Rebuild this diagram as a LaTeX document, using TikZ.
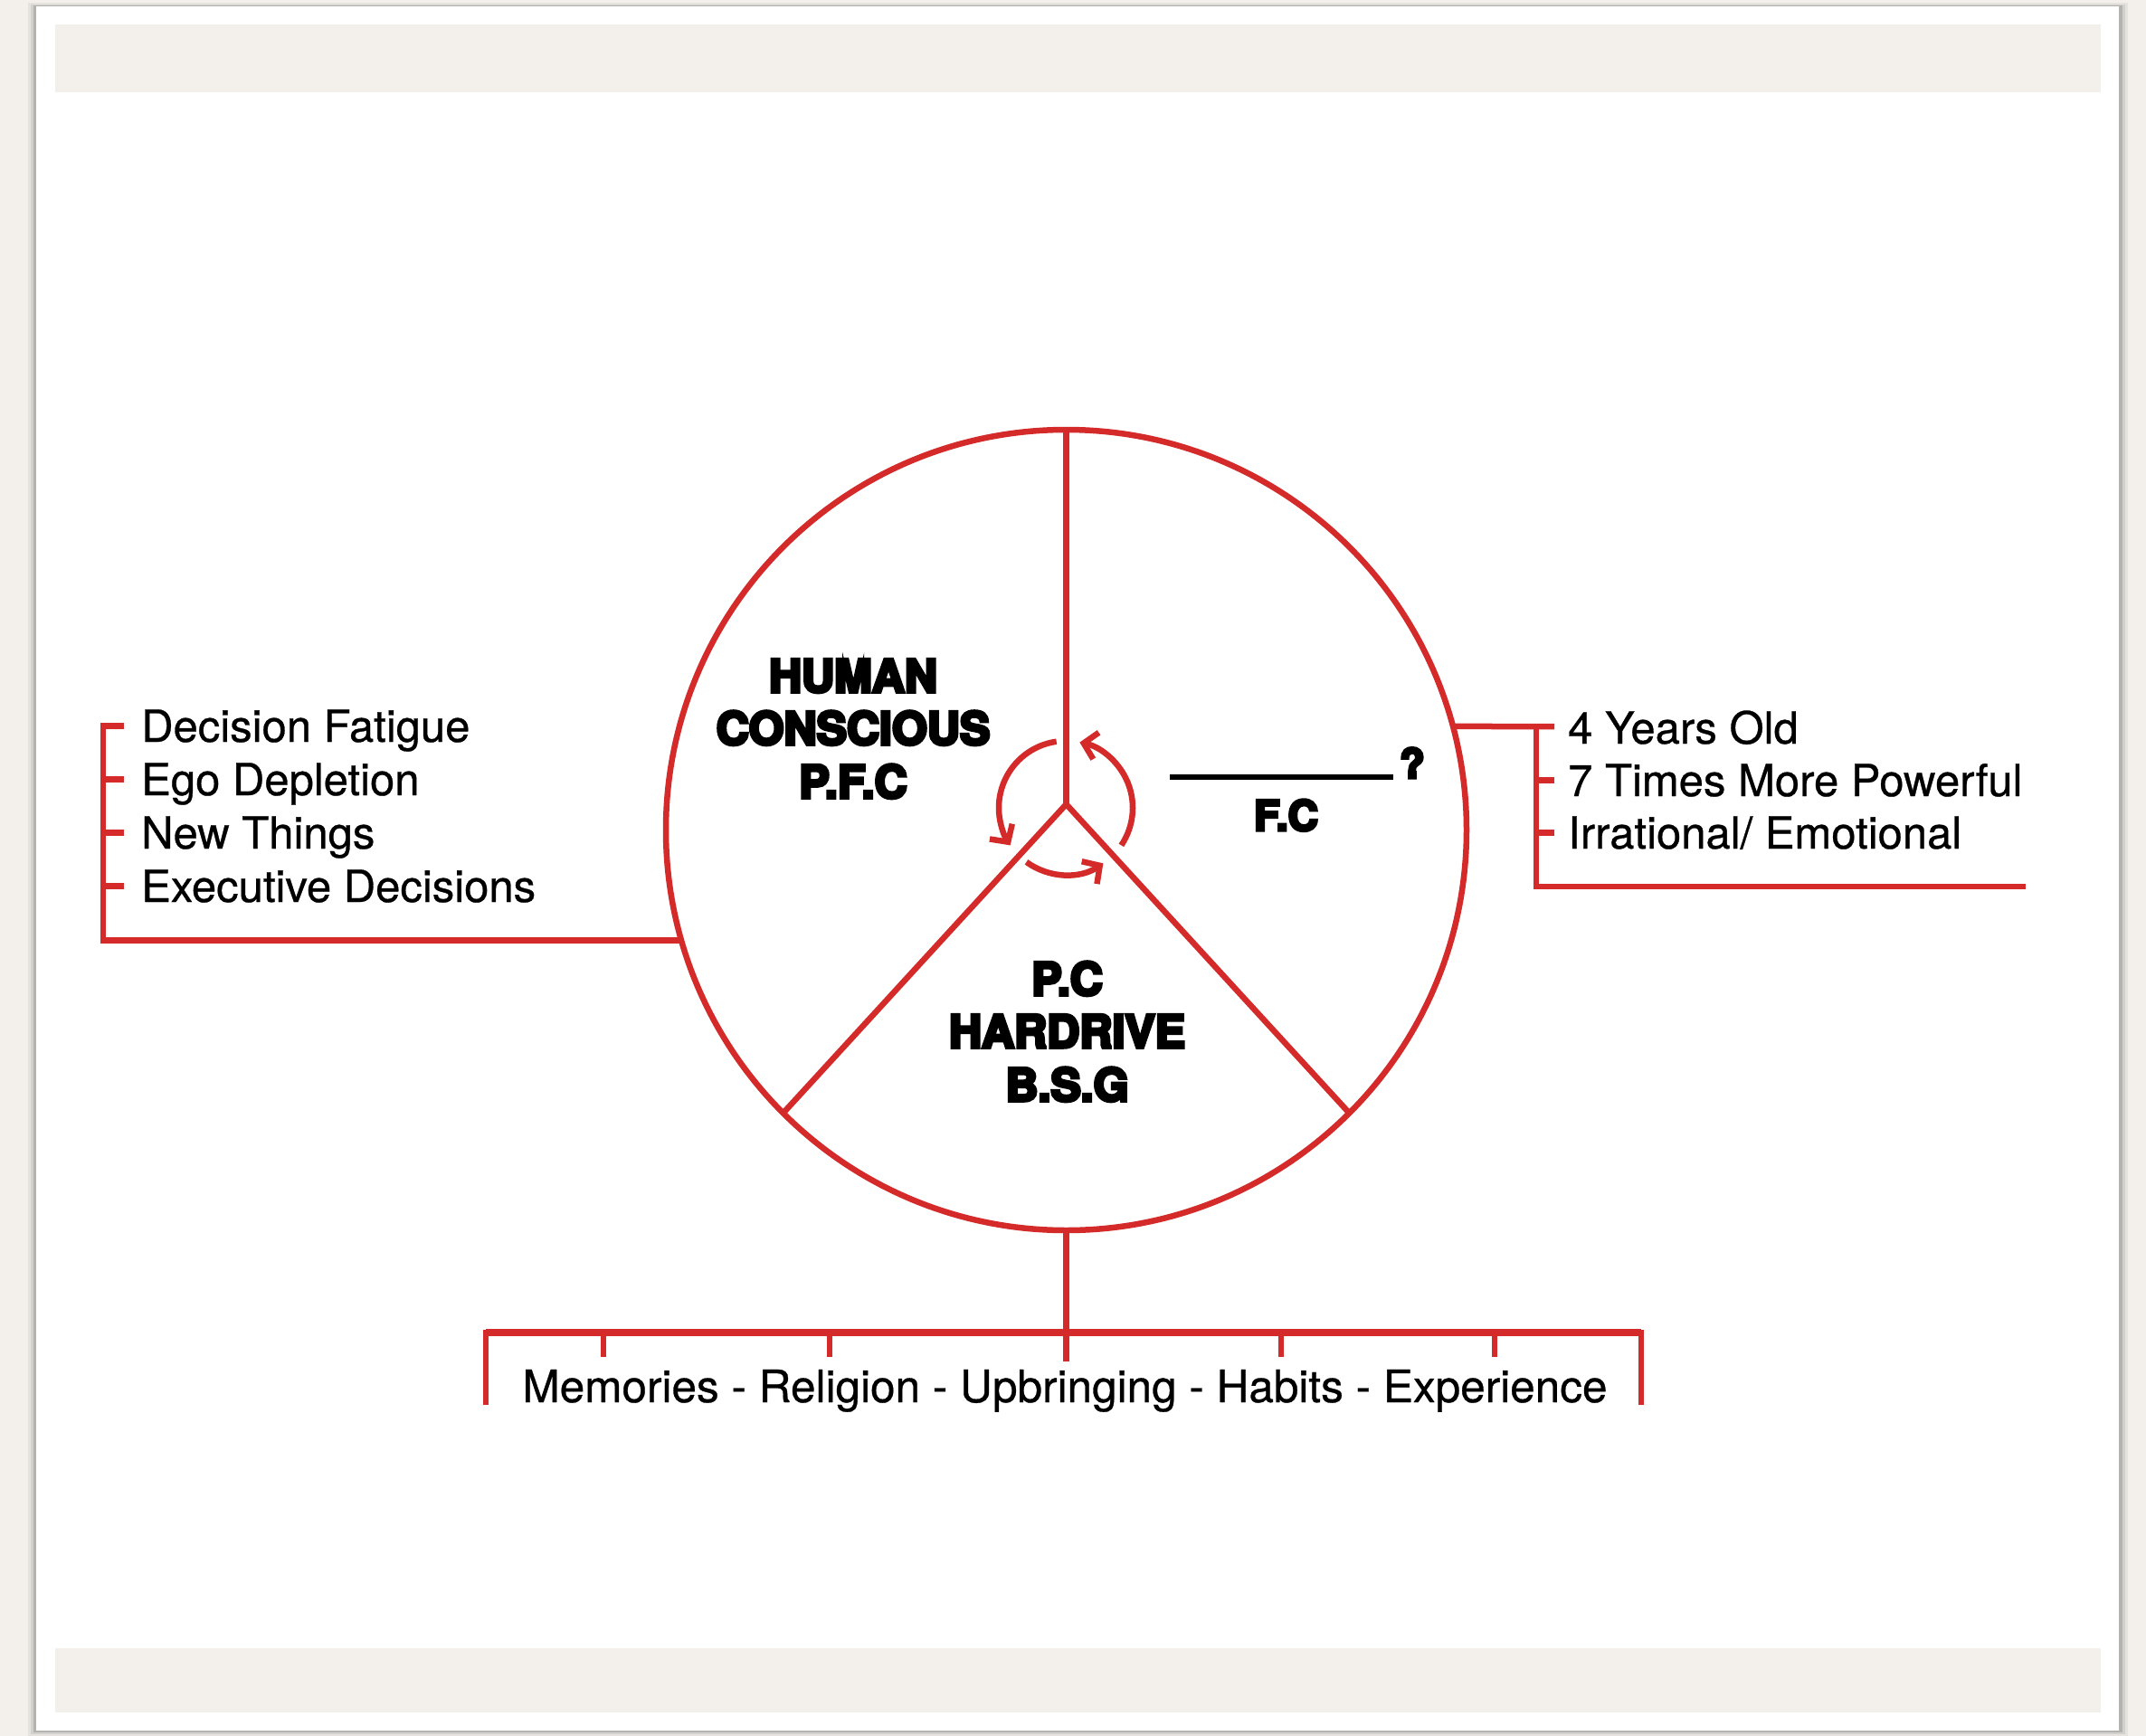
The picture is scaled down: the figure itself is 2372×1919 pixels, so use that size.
\documentclass[tikz,border=0pt]{standalone}
\usepackage{fontspec}
\setmainfont[FakeBold=0.6]{TeX Gyre Heros}
\newfontfamily\heavyfont[FakeBold=7]{TeX Gyre Heros Bold}
\usetikzlibrary{arrows.meta}
\definecolor{linered}{RGB}{212,42,42}
\definecolor{paper}{RGB}{243,240,235}
\begin{document}
\begin{tikzpicture}[x=1pt,y=-1pt,
  redline/.style={draw=linered, line width=6.5pt, line join=miter},
  listtext/.style={anchor=base west, inner sep=0pt, text height=35pt, text depth=0pt,
    font=\fontsize{49}{59}\selectfont},
  heavylabel/.style={anchor=base, inner sep=0pt, font=\heavyfont\fontsize{50}{58}\selectfont},
  turn/.style={redline, -{Straight Barb[length=14pt,width=30pt,line width=6.5pt]}}
]
\useasboundingbox (0,0) rectangle (2372,1919);

% sheet of paper with its soft shadow and the two tinted bands
\fill[paper] (0,0) rectangle (2372,1919);
\fill[black, opacity=0.05] (31,3) rectangle (2352,1919);
\fill[black, opacity=0.08] (34,5) rectangle (2349,1917);
\fill[black, opacity=0.14] (37,6) rectangle (2346,1915);
\fill[white] (40,7) rectangle (2342,1913);
\fill[paper] (61,27) rectangle (2322,102);
\fill[paper] (61,1822) rectangle (2322,1893);

% the divided circle
\node[circle, draw=linered, line width=6.5pt, minimum size=885pt, inner sep=0pt, outer sep=0pt]
  (ring) at (1178.5,917.5) {};
\coordinate (hub) at (1178.5,889);
\draw[redline] (ring.north) -- (hub);
\draw[redline] (ring.225) -- (hub) -- (ring.315);

% turning arrows round the hub
\coordinate (spin) at (1178,893);
\draw[turn] (spin) ++(-98:74) arc[start angle=-98, end angle=-214, radius=74];
\draw[turn] (spin) ++(34:74) arc[start angle=34, end angle=-78, radius=74];
\draw[turn] (spin) ++(-234:74) arc[start angle=-234, end angle=-304, radius=74];

% labels inside the sectors
\node[heavylabel] (pfc1) at (943,765) {HUMAN};
\node[heavylabel] (pfc2) at (943,823) {CONSCIOUS};
\node[heavylabel] (pfc3) at (943,882) {P.F.C};

\node[heavylabel] (pc1) at (1179.5,1100) {P.C};
\node[heavylabel] (pc2) at (1179.5,1158) {HARDRIVE};
\node[heavylabel] (pc3) at (1179.5,1217) {B.S.G};

\coordinate (blankL) at (1293,859);
\coordinate (blankR) at (1540,859);
\draw[line width=5.5pt] (blankL) -- (blankR);
\node[anchor=base west, inner sep=0pt, font=\heavyfont\fontsize{45}{50}\selectfont]
  (qmark) at (1547,860) {?};
\node[anchor=base, inner sep=0pt, font=\heavyfont\fontsize{46}{50}\selectfont]
  (fc) at (1421.5,918) {F.C};

% left bracket
\node[listtext] (l1) at (156,820) {Decision Fatigue};
\node[listtext] (l2) at (156,879) {Ego Depletion};
\node[listtext] (l3) at (156,938) {New Things};
\node[listtext] (l4) at (156,997) {Executive Decisions};
\coordinate (lspine) at (114,0);
\coordinate (ltick) at (137,0);
\draw[redline] (l1.west -| ltick) -- (l1.west -| lspine) |- (ring.196);
\foreach \n in {l2,l3,l4}
  \draw[redline] (\n.west -| lspine) -- (\n.west -| ltick);

% right bracket
\node[listtext] (r1) at (1733,822) {4 Years Old};
\node[listtext] (r2) at (1733,880) {7 Times More Powerful};
\node[listtext] (r3) at (1733,938) {Irrational/ Emotional};
\coordinate (rspine) at (1698,803);
\coordinate (rtick) at (1718,803);
\coordinate (rfoot) at (1698,980);
\coordinate (rend) at (2239,980);
\draw[redline] (ring.15) -- (rtick);
\draw[redline] (rspine) -- (rfoot) -- (rend);
\foreach \n in {r2,r3}
  \draw[redline] (\n.west -| rspine) -- (\n.west -| rtick);

% bottom bracket
\coordinate (bus) at (1178.5,1473);
\coordinate (busL) at (537,1473);
\coordinate (busR) at (1814,1473);
\draw[redline] (ring.south) -- (bus) -- ++(0,32);
\draw[redline] (busL) ++(0,80) -- (busL) -- (busR) -- ++(0,80);
\draw[draw=linered, line width=8.5pt] (busL) -- (busR);
\foreach \x in {667,917,1416,1652}
  \draw[redline] (bus -| \x,0) -- ++(0,27);
\node[anchor=base, inner sep=0pt, font=\fontsize{49.5}{59}\selectfont]
  (roots) at (1177,1550) {Memories - Religion - Upbringing - Habits - Experience};
\end{tikzpicture}
\end{document}
